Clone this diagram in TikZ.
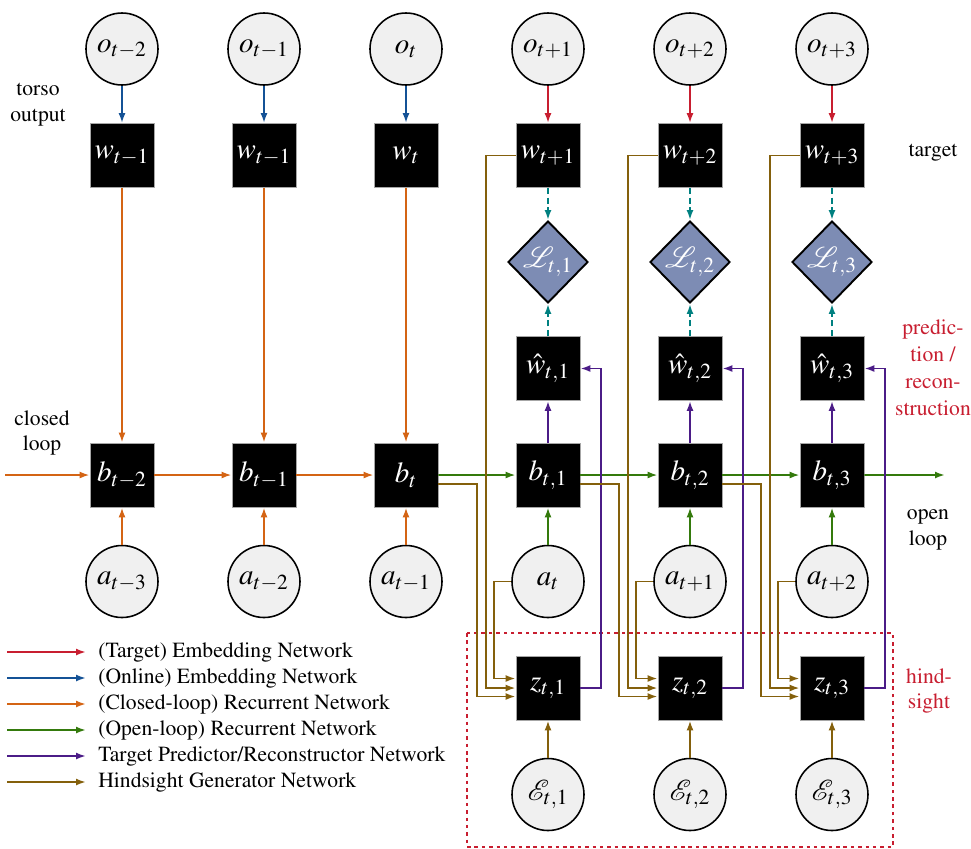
\documentclass[tikz,border=0pt]{standalone}
\usepackage{amsmath, amssymb}
\usepackage[T1]{fontenc}
\usepackage{mathptmx}
\usepackage{tikz}
\usetikzlibrary{positioning, arrows.meta, shapes.geometric}

\definecolor{tgtred}{RGB}{200,30,48}
\definecolor{onlblue}{RGB}{20,82,150}
\definecolor{clorange}{RGB}{212,100,20}
\definecolor{olgreen}{RGB}{52,122,12}
\definecolor{predpurple}{RGB}{75,28,135}
\definecolor{hindbrown}{RGB}{132,96,12}
\definecolor{lossteal}{RGB}{0,128,128}
\definecolor{lossfill}{RGB}{125,140,180}

\tikzset{
  obs/.style={circle, draw=black, line width=0.9pt, fill=gray!12, minimum size=1.44cm, inner sep=0pt, font=\fontsize{16.5}{19}\selectfont},
  emb/.style={rectangle, draw=gray!70, line width=0.4pt, fill=black, text=white, minimum size=1.28cm, inner sep=0pt, font=\fontsize{16.5}{19}\selectfont},
  loss/.style={diamond, draw=black, line width=1.1pt, fill=lossfill, text=white, minimum width=1.6cm, minimum height=1.64cm, inner sep=0pt, font=\fontsize{16.5}{19}\selectfont},
  arr/.style={line width=1.1pt, -{Latex[length=2mm, width=1.4mm]}},
  tgt/.style={arr, tgtred},
  onl/.style={arr, onlblue},
  closedl/.style={arr, clorange},
  openl/.style={arr, olgreen},
  pred/.style={arr, predpurple},
  hind/.style={arr, hindbrown},
  lossarr/.style={arr, lossteal, dash pattern=on 3.5pt off 2pt},
  side/.style={align=center, font=\fontsize{12.3}{14.6}\selectfont},
  legtext/.style={anchor=west, inner sep=0pt, font=\fontsize{12.3}{14}\selectfont}
}

\begin{document}
\begin{tikzpicture}[node distance=2.13cm and 2.84cm, on grid]
        \useasboundingbox (0,0) rectangle (19.42,-16.96);

        % observations and embeddings
        \node[obs] (o1) at (2.44,-0.98) {$o_{t-2}$};
        \node[obs, right=of o1] (o2) {$o_{t-1}$};
        \node[obs, right=of o2] (o3) {$o_{t}$};
        \node[obs, right=of o3] (o4) {$o_{t+1}$};
        \node[obs, right=of o4] (o5) {$o_{t+2}$};
        \node[obs, right=of o5] (o6) {$o_{t+3}$};
        \node[emb, below=of o1] (w1) {$w_{t-1}$};
        \node[emb, below=of o2] (w2) {$w_{t-1}$};
        \node[emb, below=of o3] (w3) {$w_{t}$};
        \node[emb, below=of o4] (w4) {$w_{t+1}$};
        \node[emb, below=of o5] (w5) {$w_{t+2}$};
        \node[emb, below=of o6] (w6) {$w_{t+3}$};

        % losses and predictions
        \node[loss, below=of w4] (L1) {$\mathcal{L}_{t,1}$};
        \node[loss, below=of w5] (L2) {$\mathcal{L}_{t,2}$};
        \node[loss, below=of w6] (L3) {$\mathcal{L}_{t,3}$};
        \node[emb, below=of L1] (p1) {$\hat{w}_{t,1}$};
        \node[emb, below=of L2] (p2) {$\hat{w}_{t,2}$};
        \node[emb, below=of L3] (p3) {$\hat{w}_{t,3}$};

        % beliefs and actions
        \node[emb, below=6.39cm of w1] (b1) {$b_{t-2}$};
        \node[emb, below=6.39cm of w2] (b2) {$b_{t-1}$};
        \node[emb, below=6.39cm of w3] (b3) {$b_{t}$};
        \node[emb, below=of p1] (b4) {$b_{t,1}$};
        \node[emb, below=of p2] (b5) {$b_{t,2}$};
        \node[emb, below=of p3] (b6) {$b_{t,3}$};
        \node[obs, below=of b1] (a1) {$a_{t-3}$};
        \node[obs, below=of b2] (a2) {$a_{t-2}$};
        \node[obs, below=of b3] (a3) {$a_{t-1}$};
        \node[obs, below=of b4] (a4) {$a_{t}$};
        \node[obs, below=of b5] (a5) {$a_{t+1}$};
        \node[obs, below=of b6] (a6) {$a_{t+2}$};

        % hindsight
        \node[emb, below=of a4] (z1) {$z_{t,1}$};
        \node[emb, below=of a5] (z2) {$z_{t,2}$};
        \node[emb, below=of a6] (z3) {$z_{t,3}$};
        \node[obs, below=of z1] (e1) {$\mathcal{E}_{t,1}$};
        \node[obs, below=of z2] (e2) {$\mathcal{E}_{t,2}$};
        \node[obs, below=of z3] (e3) {$\mathcal{E}_{t,3}$};

        \coordinate (cl) at (0.1,-9.5);
        \coordinate (ol) at (18.9,-9.5);

        % side labels
        \node[side] (torso) at (0.76,-2.1) {torso\\output};
        \node[side] (closed) at (0.84,-8.66) {closed\\loop};
        \node[side] (target) at (18.66,-3.06) {target};
        \node[side, text=tgtred, font=\fontsize{12.3}{15.4}\selectfont] (predrec) at (18.66,-7.36) {predic-\\tion /\\recon-\\struction};
        \node[side] (open) at (18.56,-10.6) {open\\loop};
        \node[side, text=tgtred] (hs) at (18.58,-13.82) {hind-\\sight};
        \draw[tgtred, line width=1.2pt, dash pattern=on 2pt off 2.2pt] (9.34,-12.66) rectangle (17.86,-16.94);

        % embedding networks
        \draw[onl] (o1) -- (w1);
        \draw[onl] (o2) -- (w2);
        \draw[onl] (o3) -- (w3);
        \draw[tgt] (o4) -- (w4);
        \draw[tgt] (o5) -- (w5);
        \draw[tgt] (o6) -- (w6);

        % closed loop
        \draw[closedl] (cl) -- (b1);
        \draw[closedl] (b1) -- (b2);
        \draw[closedl] (b2) -- (b3);
        \draw[closedl] (w1) -- (b1);
        \draw[closedl] (w2) -- (b2);
        \draw[closedl] (w3) -- (b3);
        \draw[closedl] (a1) -- (b1);
        \draw[closedl] (a2) -- (b2);
        \draw[closedl] (a3) -- (b3);

        % open loop
        \draw[openl] (b3) -- (b4);
        \draw[openl] (b4) -- (b5);
        \draw[openl] (b5) -- (b6);
        \draw[openl] (b6) -- (ol);
        \draw[openl] (a4) -- (b4);
        \draw[openl] (a5) -- (b5);
        \draw[openl] (a6) -- (b6);

        % losses
        \draw[lossarr] (w4) -- (L1);
        \draw[lossarr] (w5) -- (L2);
        \draw[lossarr] (w6) -- (L3);
        \draw[lossarr] (p1) -- (L1);
        \draw[lossarr] (p2) -- (L2);
        \draw[lossarr] (p3) -- (L3);

        % predictor / reconstructor
        \draw[pred] (b4) -- (p1);
        \draw[pred] (b5) -- (p2);
        \draw[pred] (b6) -- (p3);
        \draw[pred] (z1.east) -- ++(0.42,0) |- (p1.east);
        \draw[pred] (z2.east) -- ++(0.42,0) |- (p2.east);
        \draw[pred] (z3.east) -- ++(0.42,0) |- (p3.east);

        % hindsight generator
        \draw[hind] ([yshift=-0.18cm]b3.east) -| ([xshift=-0.78cm, yshift=-0.17cm]z1.west) -- ([yshift=-0.17cm]z1.west);
        \draw[hind] ([yshift=-0.18cm]b4.east) -| ([xshift=-0.78cm, yshift=-0.17cm]z2.west) -- ([yshift=-0.17cm]z2.west);
        \draw[hind] ([yshift=-0.18cm]b5.east) -| ([xshift=-0.78cm, yshift=-0.17cm]z3.west) -- ([yshift=-0.17cm]z3.west);
        \draw[hind] (w4.west) -| ([xshift=-0.6cm]z1.west) -- (z1.west);
        \draw[hind] (w5.west) -| ([xshift=-0.6cm]z2.west) -- (z2.west);
        \draw[hind] (w6.west) -| ([xshift=-0.6cm]z3.west) -- (z3.west);
        \draw[hind] (a4.west) -| ([xshift=-0.44cm, yshift=0.19cm]z1.west) -- ([yshift=0.19cm]z1.west);
        \draw[hind] (a5.west) -| ([xshift=-0.44cm, yshift=0.19cm]z2.west) -- ([yshift=0.19cm]z2.west);
        \draw[hind] (a6.west) -| ([xshift=-0.44cm, yshift=0.19cm]z3.west) -- ([yshift=0.19cm]z3.west);
        \draw[hind] (e1) -- (z1);
        \draw[hind] (e2) -- (z2);
        \draw[hind] (e3) -- (z3);

        % legend
        \coordinate (s1) at (0.14,-13.04);
        \coordinate (s2) at (0.14,-13.56);
        \coordinate (s3) at (0.14,-14.08);
        \coordinate (s4) at (0.14,-14.6);
        \coordinate (s5) at (0.14,-15.12);
        \coordinate (s6) at (0.14,-15.64);
        \node[legtext] (l1) at (1.96,-13.04) {(Target) Embedding Network};
        \node[legtext] (l2) at (1.96,-13.56) {(Online) Embedding Network};
        \node[legtext] (l3) at (1.96,-14.08) {(Closed-loop) Recurrent Network};
        \node[legtext] (l4) at (1.96,-14.6) {(Open-loop) Recurrent Network};
        \node[legtext] (l5) at (1.96,-15.12) {Target Predictor/Reconstructor Network};
        \node[legtext] (l6) at (1.96,-15.64) {Hindsight Generator Network};
        \draw[tgt] (s1) -- ([xshift=-0.24cm]l1.west);
        \draw[onl] (s2) -- ([xshift=-0.24cm]l2.west);
        \draw[closedl] (s3) -- ([xshift=-0.24cm]l3.west);
        \draw[openl] (s4) -- ([xshift=-0.24cm]l4.west);
        \draw[pred] (s5) -- ([xshift=-0.24cm]l5.west);
        \draw[hind] (s6) -- ([xshift=-0.24cm]l6.west);
      \end{tikzpicture}
\end{document}
